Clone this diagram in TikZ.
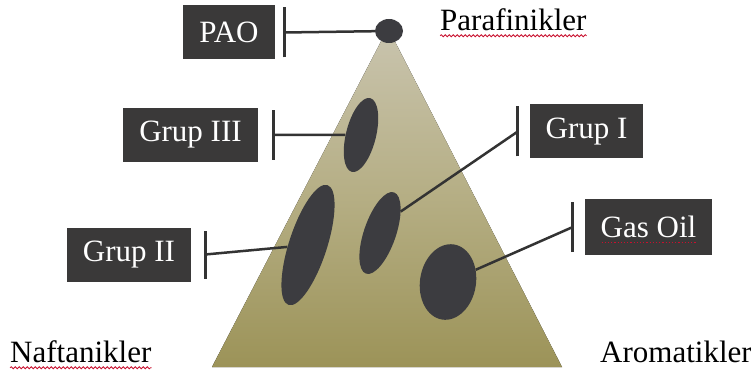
\documentclass[tikz,border=0pt]{standalone}
\usepackage{fontspec}
\setmainfont{Liberation Serif}
\newfontfamily\lserif{Liberation Serif}
\usetikzlibrary{arrows.meta,shapes.geometric,decorations.pathmorphing}
\definecolor{boxc}{HTML}{3A3939}
\definecolor{blobc}{HTML}{3C3C40}
\definecolor{linec}{HTML}{333333}
\definecolor{tritop}{HTML}{C9C4AE}
\definecolor{trimid}{HTML}{B5AE84}
\definecolor{tribot}{HTML}{9C9358}
\definecolor{spellc}{HTML}{C8102E}
\begin{document}
\begin{tikzpicture}[x=1pt,y=-1pt,
  lbl/.style={fill=boxc, text=white, font=\lserif\fontsize{31}{31}\selectfont, inner sep=0pt, minimum height=54pt},
  blob/.style={ellipse, fill=blobc, inner sep=0pt},
  conn/.style={draw=linec, line width=2.5pt},
  tbar/.style={draw=linec, line width=3pt},
  axislbl/.style={font=\lserif\fontsize{31}{31}\selectfont, text=black, inner sep=0pt},
  spell/.style={draw=spellc, line width=0.8pt, decorate, decoration={snake, amplitude=1pt, segment length=4pt}}]
\useasboundingbox (0,0) rectangle (751,374);
% triangle
\fill[top color=tritop, bottom color=tribot, middle color=trimid] (388,28) -- (212,367) -- (562,367) -- cycle;
% label boxes
\node[lbl, minimum width=92pt]  (pao) at (229,32.5) {PAO};
\node[lbl, minimum width=135pt] (g3)  at (190.5,135) {Grup III};
\node[lbl, minimum width=113pt] (g1)  at (586.5,131.5) {Grup I};
\node[lbl, minimum width=124pt] (g2)  at (129,254.5) {Grup II};
\node[lbl, minimum width=127pt, minimum height=56pt] (gas) at (648.5,227) {Gas Oil};
% blobs
\node[blob, minimum width=28pt, minimum height=24pt] (dpao) at (389,31) {};
\node[blob, minimum width=76pt, minimum height=30pt, rotate=76] (b3) at (361,135) {};
\node[blob, minimum width=86pt, minimum height=32pt, rotate=71] (b1) at (380,233) {};
\node[blob, minimum width=126pt, minimum height=38pt, rotate=72] (b2) at (308,245) {};
\node[blob, minimum width=76pt, minimum height=56pt, rotate=81, rounded corners=18pt] (bg) at (448,282) {};
% T-bars
\draw[tbar] ([xshift=9pt,yshift=-25pt]pao.east) -- ([xshift=9pt,yshift=25pt]pao.east);
\draw[tbar] ([xshift=15pt,yshift=-25pt]g3.east) -- ([xshift=15pt,yshift=25pt]g3.east);
\draw[tbar] ([xshift=-12pt,yshift=-25pt]g1.west) -- ([xshift=-12pt,yshift=25pt]g1.west);
\draw[tbar] ([xshift=14pt,yshift=-24pt]g2.east) -- ([xshift=14pt,yshift=24pt]g2.east);
\draw[tbar] ([xshift=-12pt,yshift=-25pt]gas.west) -- ([xshift=-12pt,yshift=25pt]gas.west);
% connectors
\draw[conn] ([xshift=9pt]pao.east) -- (dpao);
\draw[conn] ([xshift=15pt]g3.east) -- (b3);
\draw[conn] ([xshift=-12pt]g1.west) -- (b1.-25);
\draw[conn] ([xshift=14pt]g2.east) -- (b2);
\draw[conn] ([xshift=-12pt]gas.west) -- (bg);
% corner labels
\node[axislbl, anchor=west] (par) at (440,20) {Parafinikler};
\node[axislbl, anchor=west] (naf) at (10,352) {Naftanikler};
\node[axislbl, anchor=west] (aro) at (600,352) {Aromatikler};
% spelling marks
\draw[spell] ([yshift=-5pt]par.base west) -- ([yshift=-5pt]par.base east);
\draw[spell] ([yshift=-5pt]naf.base west) -- ([yshift=-5pt]naf.base east);
\draw[spellc, dotted, line width=1.2pt] ([xshift=-47pt,yshift=-5pt]gas.base) -- ([xshift=47pt,yshift=-5pt]gas.base);
\end{tikzpicture}
\end{document}
